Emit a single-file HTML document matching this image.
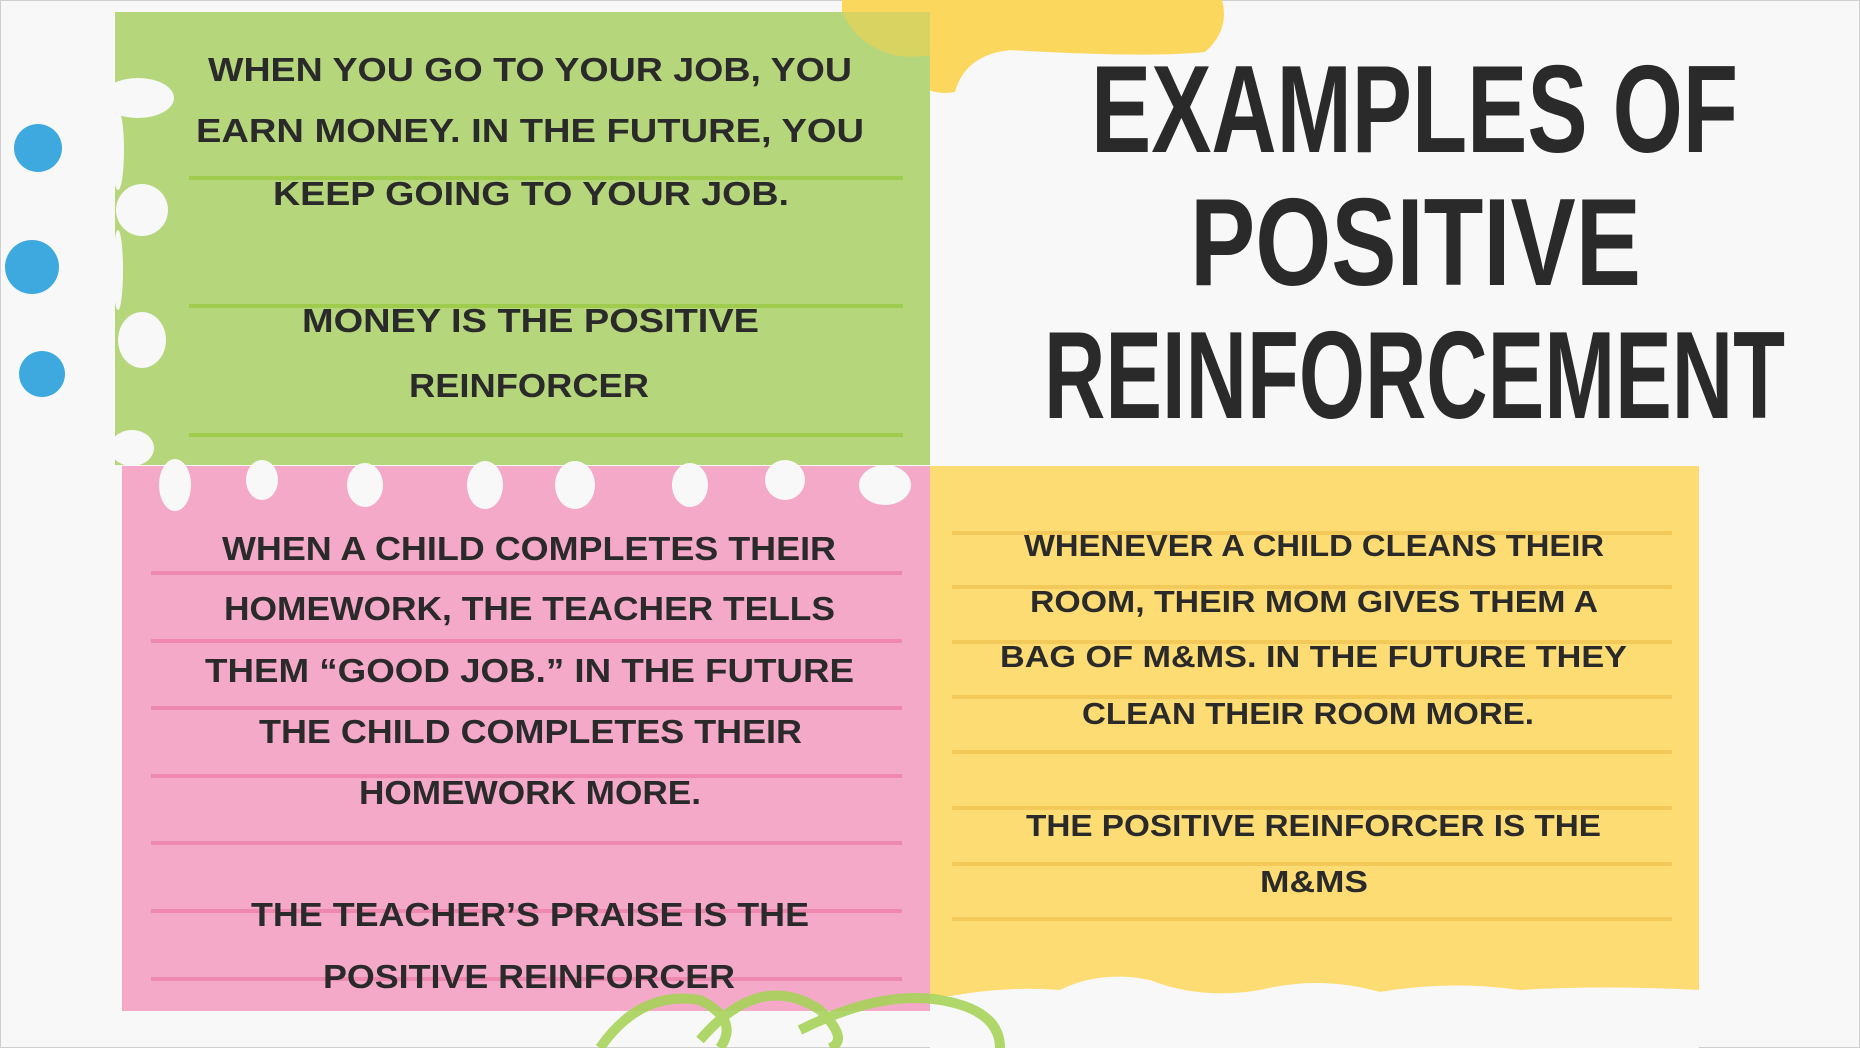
<!DOCTYPE html>
<html><head><meta charset="utf-8"><style>
html,body{margin:0;padding:0;background:#f8f8f8;}
svg{display:block;}
text{font-family:"Liberation Sans",sans-serif;font-weight:bold;fill:#2a2a2a;}
</style></head><body>
<svg width="1860" height="1048" viewBox="0 0 1860 1048" xmlns="http://www.w3.org/2000/svg">
<rect x="0.5" y="0.5" width="1859" height="1047" fill="#f8f8f8" stroke="#cfcfcf"/>
<!-- yellow blob top -->
<path d="M842 0 L1222 0 Q1230 30 1205 52 Q1150 58 1010 50 Q965 55 955 92 Q925 98 905 70 Q860 60 842 20 Z" fill="#fbd75e"/>
<!-- green box -->
<rect x="115" y="12" width="815" height="453" fill="#b6d67b"/>
<path d="M842 12 L930 12 L930 55 Q900 60 880 50 Q855 40 842 12Z" fill="#e2d25c" opacity="0.8"/>
<g stroke="#9fcc4c" stroke-width="4">
<line x1="189" y1="178" x2="903" y2="178"/><line x1="189" y1="306" x2="903" y2="306"/><line x1="189" y1="435" x2="903" y2="435"/>
</g>
<!-- torn left edge of green -->
<g fill="#f8f8f8">
<ellipse cx="138" cy="98" rx="36" ry="20"/><ellipse cx="142" cy="210" rx="26" ry="26"/><ellipse cx="142" cy="340" rx="24" ry="28"/><ellipse cx="132" cy="448" rx="22" ry="18"/>
<ellipse cx="118" cy="150" rx="6" ry="40"/><ellipse cx="118" cy="270" rx="5" ry="40"/>
</g>
<!-- blue blobs -->
<g fill="#3ea9df">
<circle cx="38" cy="148" r="24"/><circle cx="32" cy="267" r="27"/><circle cx="42" cy="374" r="23"/>
</g>
<!-- pink box -->
<rect x="122" y="466" width="808" height="545" fill="#f4a9c9"/>
<g stroke="#ee88ae" stroke-width="4">
<line x1="151" y1="573" x2="902" y2="573"/><line x1="151" y1="641" x2="902" y2="641"/><line x1="151" y1="708" x2="902" y2="708"/><line x1="151" y1="776" x2="902" y2="776"/><line x1="151" y1="843" x2="902" y2="843"/><line x1="151" y1="911" x2="902" y2="911"/><line x1="151" y1="979" x2="902" y2="979"/>
</g>
<g fill="#f8f8f8">
<ellipse cx="175" cy="485" rx="16" ry="26"/><ellipse cx="262" cy="480" rx="16" ry="20"/><ellipse cx="365" cy="485" rx="18" ry="22"/><ellipse cx="485" cy="485" rx="18" ry="24"/><ellipse cx="575" cy="485" rx="20" ry="24"/><ellipse cx="690" cy="485" rx="18" ry="22"/><ellipse cx="785" cy="480" rx="20" ry="20"/><ellipse cx="885" cy="485" rx="26" ry="20"/>
</g>
<!-- yellow box -->
<rect x="930" y="466" width="769" height="530" fill="#fddc74"/>
<g stroke="#f3c95a" stroke-width="4">
<line x1="952" y1="533" x2="1672" y2="533"/><line x1="952" y1="587" x2="1672" y2="587"/><line x1="952" y1="642" x2="1672" y2="642"/><line x1="952" y1="697" x2="1672" y2="697"/><line x1="952" y1="752" x2="1672" y2="752"/><line x1="952" y1="808" x2="1672" y2="808"/><line x1="952" y1="864" x2="1672" y2="864"/><line x1="952" y1="919" x2="1672" y2="919"/>
</g>
<path d="M930 1000 Q1000 985 1060 990 Q1100 970 1150 980 Q1200 1000 1260 990 Q1320 975 1380 992 Q1450 980 1520 990 Q1600 985 1699 990 L1699 1048 L930 1048Z" fill="#f8f8f8"/>
<!-- green scribble -->
<g fill="none" stroke="#a7d35a" stroke-width="10" opacity="0.9">
<path d="M600 1048 Q640 990 700 1000 Q740 1020 720 1048"/>
<path d="M700 1040 Q760 970 820 1010 Q850 1040 830 1048"/>
<path d="M800 1030 Q880 990 940 1000 Q1000 1010 1000 1048"/>
</g>
<!-- title -->
<g font-size="124">
<text x="1091" y="152" textLength="647" lengthAdjust="spacingAndGlyphs">EXAMPLES OF</text>
<text x="1190" y="285" textLength="451" lengthAdjust="spacingAndGlyphs">POSITIVE</text>
<text x="1044" y="418" textLength="741" lengthAdjust="spacingAndGlyphs">REINFORCEMENT</text>
</g>
<!-- green text -->
<g font-size="33">
<text x="208" y="81" textLength="644" lengthAdjust="spacingAndGlyphs">WHEN YOU GO TO YOUR JOB, YOU</text>
<text x="196" y="142" textLength="668" lengthAdjust="spacingAndGlyphs">EARN MONEY. IN THE FUTURE, YOU</text>
<text x="273" y="205" textLength="516" lengthAdjust="spacingAndGlyphs">KEEP GOING TO YOUR JOB.</text>
<text x="302" y="332" textLength="457" lengthAdjust="spacingAndGlyphs">MONEY IS THE POSITIVE</text>
<text x="409" y="397" textLength="240" lengthAdjust="spacingAndGlyphs">REINFORCER</text>
</g>
<!-- pink text -->
<g font-size="33">
<text x="222" y="560" textLength="614" lengthAdjust="spacingAndGlyphs">WHEN A CHILD COMPLETES THEIR</text>
<text x="224" y="620" textLength="611" lengthAdjust="spacingAndGlyphs">HOMEWORK, THE TEACHER TELLS</text>
<text x="205" y="682" textLength="649" lengthAdjust="spacingAndGlyphs">THEM “GOOD JOB.” IN THE FUTURE</text>
<text x="259" y="743" textLength="543" lengthAdjust="spacingAndGlyphs">THE CHILD COMPLETES THEIR</text>
<text x="359" y="804" textLength="342" lengthAdjust="spacingAndGlyphs">HOMEWORK MORE.</text>
<text x="251" y="926" textLength="558" lengthAdjust="spacingAndGlyphs">THE TEACHER’S PRAISE IS THE</text>
<text x="323" y="988" textLength="412" lengthAdjust="spacingAndGlyphs">POSITIVE REINFORCER</text>
</g>
<!-- yellow text -->
<g font-size="31">
<text x="1024" y="556" textLength="580" lengthAdjust="spacingAndGlyphs">WHENEVER A CHILD CLEANS THEIR</text>
<text x="1030" y="612" textLength="568" lengthAdjust="spacingAndGlyphs">ROOM, THEIR MOM GIVES THEM A</text>
<text x="1000" y="667" textLength="627" lengthAdjust="spacingAndGlyphs">BAG OF M&amp;MS. IN THE FUTURE THEY</text>
<text x="1082" y="724" textLength="452" lengthAdjust="spacingAndGlyphs">CLEAN THEIR ROOM MORE.</text>
<text x="1026" y="836" textLength="575" lengthAdjust="spacingAndGlyphs">THE POSITIVE REINFORCER IS THE</text>
<text x="1260" y="892" textLength="108" lengthAdjust="spacingAndGlyphs">M&amp;MS</text>
</g>
</svg>
</body></html>
